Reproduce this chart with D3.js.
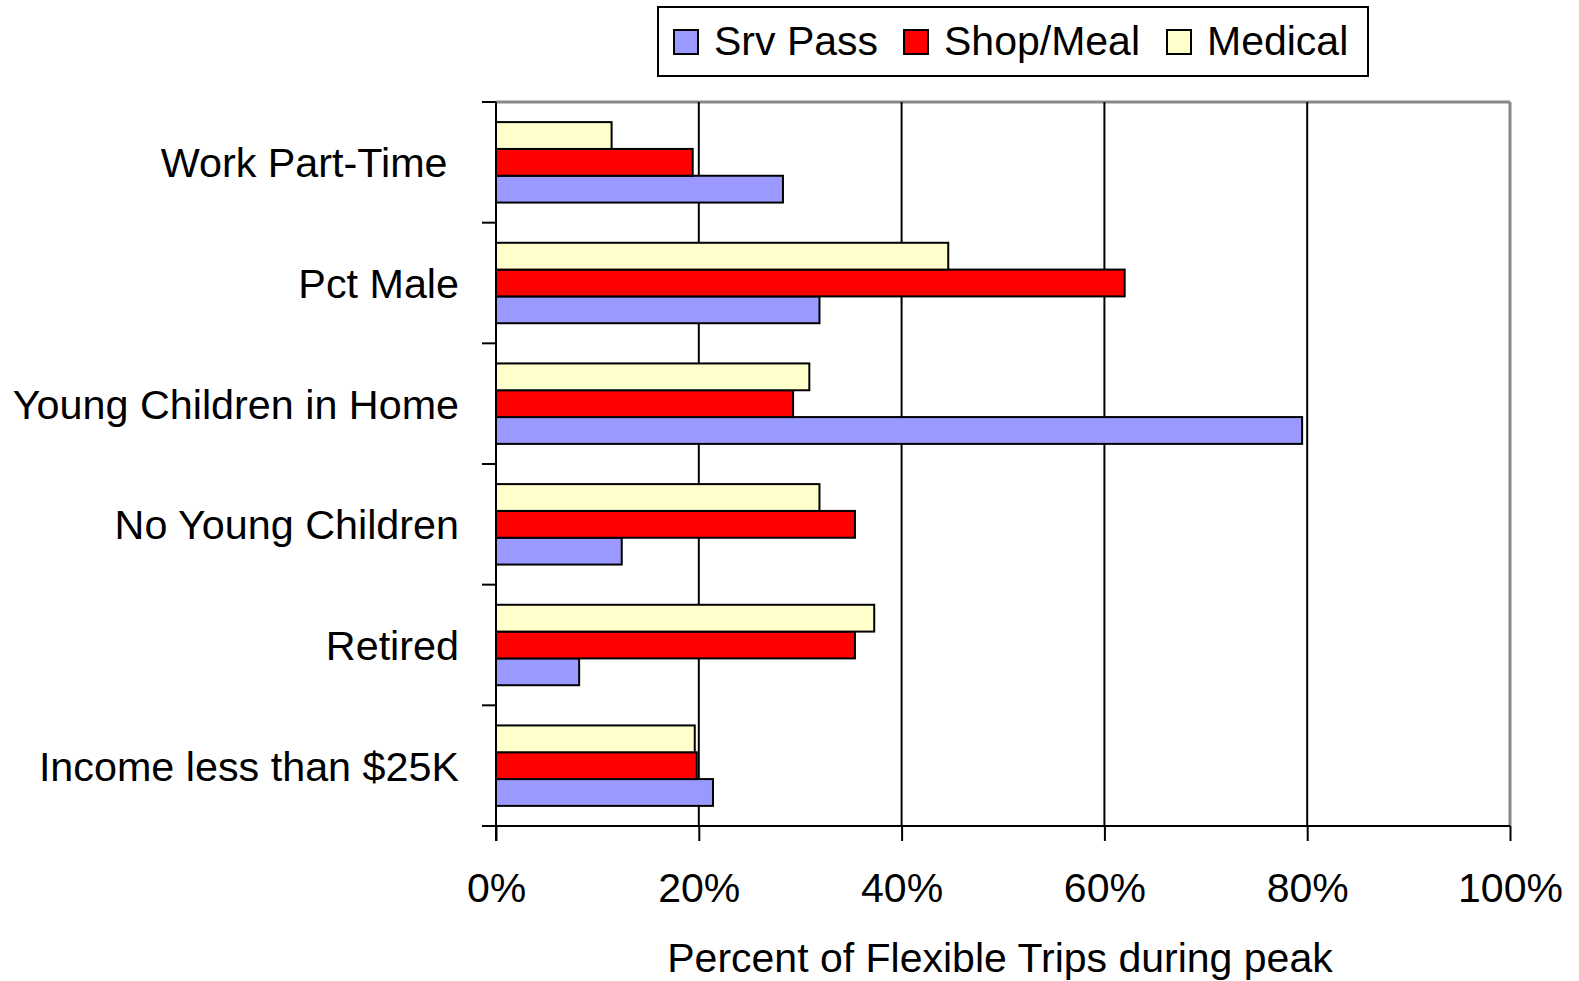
<!DOCTYPE html>
<html lang="en">
<head>
<meta charset="UTF-8">
<title>Flexible Trips during peak</title>
<script src="https://d3js.org/d3.v7.min.js"></script>
<style>
  body { margin: 0; background: #fff; }
  text { font-family: "Liberation Sans", Arial, sans-serif; fill: #000; }
</style>
</head>
<body>
<svg width="1579" height="981"></svg>
<script>
// categories, top to bottom
const categories = ["Work Part-Time ", "Pct Male", "Young Children in Home", "No Young Children", "Retired", "Income less than $25K"]
const seriesNames = ["Srv Pass", "Shop/Meal", "Medical"]
const seriesColors = ["#9999FF", "#FF0000", "#FFFFCC"]
// percent values per series, same order as categories
const srvPass = [28.3, 31.9, 79.5, 12.4, 8.2, 21.4]
const shopMeal = [19.4, 62.0, 29.3, 35.4, 35.4, 19.8]
const medical = [11.4, 44.6, 30.9, 31.9, 37.3, 19.6]
const xTicks = [0, 20, 40, 60, 80, 100]

let svg = d3.select("svg")
let pLeft = 496, pRight = 1510, pTop = 102, pBottom = 826

let x = d3.scaleLinear().domain([0, 100]).range([pLeft, pRight])
let y = d3.scaleBand().domain(categories).range([pTop, pBottom]).paddingInner(0.3333).paddingOuter(0.1667)
// medical drawn on top, srv pass at bottom of each band
let inner = d3.scaleBand().domain(["Medical", "Shop/Meal", "Srv Pass"]).range([0, y.bandwidth()])

let rows = []
categories.forEach(function (c, i) {
    rows.push({ cat: c, s: "Srv Pass", v: srvPass[i] })
    rows.push({ cat: c, s: "Shop/Meal", v: shopMeal[i] })
    rows.push({ cat: c, s: "Medical", v: medical[i] })
})
let color = d3.scaleOrdinal().domain(seriesNames).range(seriesColors)

// frame: gray top/right
svg.append("line").attr("x1", pLeft).attr("x2", pRight).attr("y1", pTop).attr("y2", pTop)
    .attr("stroke", "#888").attr("stroke-width", 3)
svg.append("line").attr("x1", pRight).attr("x2", pRight).attr("y1", pTop).attr("y2", pBottom)
    .attr("stroke", "#888").attr("stroke-width", 3)

// gridlines
svg.append("g").selectAll("line")
    .data(xTicks.slice(1, -1))
    .enter().append("line")
    .attr("x1", d => x(d)).attr("x2", d => x(d))
    .attr("y1", pTop).attr("y2", pBottom)
    .attr("stroke", "#000").attr("stroke-width", 2)

// bars
svg.append("g").selectAll("rect")
    .data(rows)
    .enter().append("rect")
    .attr("x", x(0))
    .attr("y", d => y(d.cat) + inner(d.s))
    .attr("width", d => x(d.v) - x(0))
    .attr("height", inner.bandwidth())
    .attr("fill", d => color(d.s))
    .attr("stroke", "#000").attr("stroke-width", 2)

// x axis
let xAxis = d3.axisBottom(x).tickValues(xTicks).tickFormat(d => d + "%").tickSize(15)
let gx = svg.append("g").attr("transform", `translate(0,${pBottom})`).call(xAxis)
gx.select(".domain").remove()
gx.attr("font-family", null).attr("font-size", null)
gx.selectAll("line").attr("stroke", "#000").attr("stroke-width", 2)
gx.selectAll("text").style("font-size", "41px").attr("y", 76).attr("dy", null)
svg.append("line").attr("x1", pLeft - 14).attr("x2", pRight).attr("y1", pBottom).attr("y2", pBottom)
    .attr("stroke", "#000").attr("stroke-width", 2)

// y axis: ticks between categories
svg.append("line").attr("x1", pLeft).attr("x2", pLeft).attr("y1", pTop).attr("y2", pBottom + 15)
    .attr("stroke", "#000").attr("stroke-width", 2)
let bounds = d3.range(categories.length + 1).map(i => pTop + i * y.step())
svg.append("g").selectAll("line")
    .data(bounds)
    .enter().append("line")
    .attr("x1", pLeft - 14).attr("x2", pLeft)
    .attr("y1", d => d).attr("y2", d => d)
    .attr("stroke", "#000").attr("stroke-width", 2)

svg.append("g").selectAll("text")
    .data(categories)
    .enter().append("text")
    .attr("x", 459)
    .attr("y", d => y(d) + y.bandwidth() / 2 + 15)
    .attr("text-anchor", "end")
    .style("white-space", "pre")
    .style("font-size", "41.3px")
    .text(d => d)

svg.append("text")
    .attr("x", 1000).attr("y", 972)
    .attr("text-anchor", "middle")
    .style("font-size", "41px")
    .text("Percent of Flexible Trips during peak")

// legend
let lg = svg.append("g")
lg.append("rect").attr("x", 658).attr("y", 7).attr("width", 710).attr("height", 69)
    .attr("fill", "#fff").attr("stroke", "#000").attr("stroke-width", 2)
let legX = [674, 904, 1167]
seriesNames.forEach(function (s, i) {
    lg.append("rect").attr("x", legX[i]).attr("y", 30).attr("width", 24).attr("height", 24)
        .attr("fill", color(s)).attr("stroke", "#000").attr("stroke-width", 2)
    lg.append("text").attr("x", legX[i] + 40).attr("y", 55)
        .style("font-size", "41px")
        .text(s)
})
</script>
</body>
</html>
